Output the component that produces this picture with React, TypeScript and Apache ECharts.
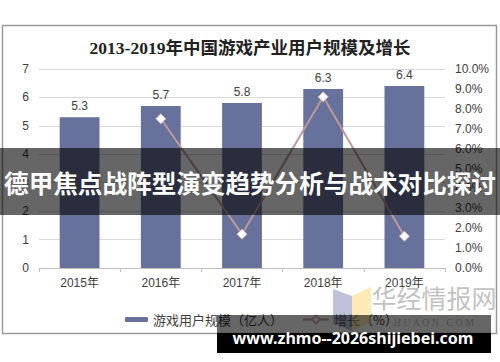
import React, { useEffect, useRef } from "react";
import * as echarts from "echarts";

const categories = ["2015年", "2016年", "2017年", "2018年", "2019年"];
const users = [5.3, 5.7, 5.8, 6.3, 6.4];
const growth: (number | null)[] = [null, 7.5, 1.7, 8.6, 1.6];
const leftTicks = { min: 0, max: 7, interval: 1 };
const rightTicks = { min: 0, max: 10, interval: 1 };
const titleText = "2013-2019年中国游戏产业用户规模及增长";
const bannerText = "德甲焦点战阵型演变趋势分析与战术对比探讨";
const siteText = "www.zhmo--2026shijiebei.com";
const seriesNames = ["游戏用户规模（亿人）", "增长（%）"];

export default function App() {
  const ref = useRef<HTMLDivElement>(null);
  useEffect(() => {
    if (!ref.current) return;
    const chart = echarts.init(ref.current, null, { renderer: "svg" });
    const sans = "'Liberation Sans', Arial, 'Noto Sans CJK SC', sans-serif";
    chart.setOption({
      animation: false,
      backgroundColor: "#ffffff",
      grid: { left: 39, right: 55, top: 69, bottom: 94 },
      xAxis: {
        type: "category",
        data: categories,
        boundaryGap: true,
        axisLine: { lineStyle: { color: "#bfbfbf", width: 1 } },
        axisTick: { show: true, length: 4, lineStyle: { color: "#bfbfbf" } },
        axisLabel: { color: "#404040", fontSize: 12, margin: 9, fontFamily: sans },
      },
      yAxis: [
        {
          type: "value",
          ...leftTicks,
          axisLine: { show: false },
          axisTick: { show: false },
          splitLine: { lineStyle: { color: "#d9d9d9" } },
          axisLabel: { color: "#404040", fontSize: 12, margin: 10, fontFamily: sans },
        },
        {
          type: "value",
          ...rightTicks,
          position: "right",
          axisLine: { show: false },
          axisTick: { show: false },
          splitLine: { show: false },
          axisLabel: {
            color: "#404040",
            fontSize: 12,
            margin: 10,
            fontFamily: sans,
            formatter: (v: number) => v.toFixed(1) + "%",
          },
        },
      ],
      legend: [
        {
          data: [seriesNames[0]],
          left: 120,
          top: 308,
          itemWidth: 23,
          itemHeight: 5,
          textStyle: { color: "#404040", fontSize: 13, fontFamily: "'Noto Sans CJK SC', sans-serif" },
          itemGap: 4,
        },
        {
          data: [seriesNames[1]],
          left: 297,
          top: 308,
          itemWidth: 26,
          itemHeight: 10,
          textStyle: { color: "#404040", fontSize: 13, fontFamily: "'Noto Sans CJK SC', sans-serif" },
        },
      ],
      series: [
        {
          name: seriesNames[0],
          type: "bar",
          data: users,
          barWidth: "49%",
          itemStyle: { color: "#66719c" },
          label: {
            show: true,
            position: "top",
            distance: 5,
            color: "#404040",
            fontSize: 12,
            fontFamily: sans,
          },
        },
        {
          name: seriesNames[1],
          type: "line",
          yAxisIndex: 1,
          data: growth,
          symbol: "diamond",
          symbolSize: 10,
          showSymbol: true,
          lineStyle: { color: "#c09898", width: 2 },
          itemStyle: { color: "#ffffff", borderColor: "#d8b4b4", borderWidth: 1 },
        },
      ],
      graphic: [
        {
          type: "rect",
          shape: { x: 2.5, y: 25.5, width: 494, height: 308 },
          style: { fill: "none", stroke: "#9a9a9a", lineWidth: 1.5 },
          z: 1,
          silent: true,
        },
        {
          type: "text",
          x: 250,
          y: 48,
          style: {
            text: titleText,
            fill: "#222222",
            font: "bold 17.5px 'Liberation Serif', 'Noto Sans CJK SC', serif",
            align: "center",
            verticalAlign: "middle",
          },
          z: 5,
        },
        // logo watermark
        {
          type: "polygon",
          shape: { points: [[333, 289], [352, 296], [352, 331], [333, 323]] },
          style: { fill: "rgba(110,120,170,0.45)" },
          z: 50,
          silent: true,
        },
        {
          type: "polygon",
          shape: { points: [[352, 296], [371, 287], [371, 322], [352, 331]] },
          style: { fill: "rgba(250,215,110,0.5)" },
          z: 50,
          silent: true,
        },
        {
          type: "text",
          x: 434,
          y: 297,
          style: {
            text: "华经情报网",
            fill: "rgba(140,140,140,0.55)",
            font: "25px 'Noto Sans CJK SC', sans-serif",
            align: "center",
            verticalAlign: "middle",
          },
          z: 50,
          silent: true,
        },
        {
          type: "text",
          x: 434,
          y: 322,
          style: {
            text: "H U A O N . C O M",
            fill: "rgba(140,140,140,0.55)",
            font: "10px 'Liberation Serif', serif",
            align: "center",
            verticalAlign: "middle",
          },
          z: 50,
          silent: true,
        },
        // banner
        {
          type: "rect",
          shape: { x: 0, y: 148, width: 500, height: 67 },
          style: { fill: "rgba(0,0,0,0.6)" },
          z: 100,
          silent: true,
        },
        {
          type: "text",
          x: 250,
          y: 182,
          style: {
            text: bannerText,
            fill: "#ffffff",
            font: "bold 24.6px 'Noto Sans CJK SC', sans-serif",
            align: "center",
            verticalAlign: "middle",
          },
          z: 101,
          silent: true,
        },
        // site watermark
        {
          type: "rect",
          shape: { x: 217, y: 315, width: 274, height: 18 },
          style: { fill: "rgba(0,0,0,0.6)" },
          z: 100,
          silent: true,
        },
        {
          type: "rect",
          shape: { x: 217, y: 333, width: 274, height: 20 },
          style: { fill: "#000000" },
          z: 100,
          silent: true,
        },
        {
          type: "text",
          x: 353,
          y: 338,
          style: {
            text: siteText,
            fill: "#ffffff",
            font: "bold 16px 'Noto Sans', 'Open Sans', sans-serif",
            align: "center",
            verticalAlign: "middle",
          },
          z: 101,
          silent: true,
        },
      ],
    });
    return () => chart.dispose();
  }, []);
  return (
    <div
      ref={ref}
      style={{ position: "absolute", left: 0, top: 0, width: 500, height: 362 }}
    />
  );
}
